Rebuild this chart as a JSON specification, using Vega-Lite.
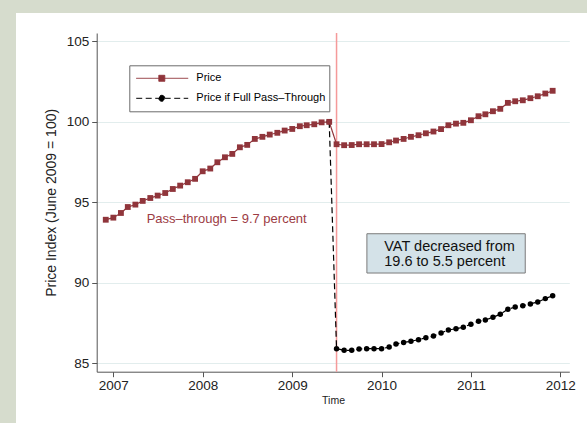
{
  "$schema": "https://vega.github.io/schema/vega-lite/v6.json",
  "width": 571,
  "height": 410,
  "autosize": "none",
  "padding": {"left": 16, "top": 13, "right": 0, "bottom": 0},
  "background": "#d6dccd",
  "config": {
    "view": {"fill": "white", "stroke": null},
    "font": "Liberation Sans"
  },
  "datasets": {
    "prices": [
      {"date": "2006-12-01", "series": "Price", "value": 93.92},
      {"date": "2007-01-01", "series": "Price", "value": 94.05},
      {"date": "2007-02-01", "series": "Price", "value": 94.34},
      {"date": "2007-03-01", "series": "Price", "value": 94.71},
      {"date": "2007-04-01", "series": "Price", "value": 94.86},
      {"date": "2007-05-01", "series": "Price", "value": 95.09},
      {"date": "2007-06-01", "series": "Price", "value": 95.27},
      {"date": "2007-07-01", "series": "Price", "value": 95.42},
      {"date": "2007-08-01", "series": "Price", "value": 95.58},
      {"date": "2007-09-01", "series": "Price", "value": 95.83},
      {"date": "2007-10-01", "series": "Price", "value": 96.04},
      {"date": "2007-11-01", "series": "Price", "value": 96.25},
      {"date": "2007-12-01", "series": "Price", "value": 96.46},
      {"date": "2008-01-01", "series": "Price", "value": 96.93},
      {"date": "2008-02-01", "series": "Price", "value": 97.10},
      {"date": "2008-03-01", "series": "Price", "value": 97.49},
      {"date": "2008-04-01", "series": "Price", "value": 97.80},
      {"date": "2008-05-01", "series": "Price", "value": 98.01},
      {"date": "2008-06-01", "series": "Price", "value": 98.42},
      {"date": "2008-07-01", "series": "Price", "value": 98.57},
      {"date": "2008-08-01", "series": "Price", "value": 98.94},
      {"date": "2008-09-01", "series": "Price", "value": 99.07},
      {"date": "2008-10-01", "series": "Price", "value": 99.21},
      {"date": "2008-11-01", "series": "Price", "value": 99.32},
      {"date": "2008-12-01", "series": "Price", "value": 99.46},
      {"date": "2009-01-01", "series": "Price", "value": 99.56},
      {"date": "2009-02-01", "series": "Price", "value": 99.73},
      {"date": "2009-03-01", "series": "Price", "value": 99.79},
      {"date": "2009-04-01", "series": "Price", "value": 99.85},
      {"date": "2009-05-01", "series": "Price", "value": 99.97},
      {"date": "2009-06-01", "series": "Price", "value": 100.00},
      {"date": "2009-07-01", "series": "Price", "value": 98.61},
      {"date": "2009-08-01", "series": "Price", "value": 98.55},
      {"date": "2009-09-01", "series": "Price", "value": 98.56},
      {"date": "2009-10-01", "series": "Price", "value": 98.61},
      {"date": "2009-11-01", "series": "Price", "value": 98.61},
      {"date": "2009-12-01", "series": "Price", "value": 98.61},
      {"date": "2010-01-01", "series": "Price", "value": 98.62},
      {"date": "2010-02-01", "series": "Price", "value": 98.73},
      {"date": "2010-03-01", "series": "Price", "value": 98.84},
      {"date": "2010-04-01", "series": "Price", "value": 98.94},
      {"date": "2010-05-01", "series": "Price", "value": 99.07},
      {"date": "2010-06-01", "series": "Price", "value": 99.17},
      {"date": "2010-07-01", "series": "Price", "value": 99.29},
      {"date": "2010-08-01", "series": "Price", "value": 99.40},
      {"date": "2010-09-01", "series": "Price", "value": 99.55},
      {"date": "2010-10-01", "series": "Price", "value": 99.79},
      {"date": "2010-11-01", "series": "Price", "value": 99.89},
      {"date": "2010-12-01", "series": "Price", "value": 99.94},
      {"date": "2011-01-01", "series": "Price", "value": 100.10},
      {"date": "2011-02-01", "series": "Price", "value": 100.35},
      {"date": "2011-03-01", "series": "Price", "value": 100.47},
      {"date": "2011-04-01", "series": "Price", "value": 100.66},
      {"date": "2011-05-01", "series": "Price", "value": 100.81},
      {"date": "2011-06-01", "series": "Price", "value": 101.18},
      {"date": "2011-07-01", "series": "Price", "value": 101.28},
      {"date": "2011-08-01", "series": "Price", "value": 101.34},
      {"date": "2011-09-01", "series": "Price", "value": 101.47},
      {"date": "2011-10-01", "series": "Price", "value": 101.59},
      {"date": "2011-11-01", "series": "Price", "value": 101.76},
      {"date": "2011-12-01", "series": "Price", "value": 101.93},
      {"date": "2009-06-01", "series": "Price if Full Pass–Through", "value": 100.00},
      {"date": "2009-07-01", "series": "Price if Full Pass–Through", "value": 85.91},
      {"date": "2009-08-01", "series": "Price if Full Pass–Through", "value": 85.81},
      {"date": "2009-09-01", "series": "Price if Full Pass–Through", "value": 85.81},
      {"date": "2009-10-01", "series": "Price if Full Pass–Through", "value": 85.89},
      {"date": "2009-11-01", "series": "Price if Full Pass–Through", "value": 85.91},
      {"date": "2009-12-01", "series": "Price if Full Pass–Through", "value": 85.91},
      {"date": "2010-01-01", "series": "Price if Full Pass–Through", "value": 85.91},
      {"date": "2010-02-01", "series": "Price if Full Pass–Through", "value": 86.01},
      {"date": "2010-03-01", "series": "Price if Full Pass–Through", "value": 86.20},
      {"date": "2010-04-01", "series": "Price if Full Pass–Through", "value": 86.30},
      {"date": "2010-05-01", "series": "Price if Full Pass–Through", "value": 86.37},
      {"date": "2010-06-01", "series": "Price if Full Pass–Through", "value": 86.47},
      {"date": "2010-07-01", "series": "Price if Full Pass–Through", "value": 86.59},
      {"date": "2010-08-01", "series": "Price if Full Pass–Through", "value": 86.70},
      {"date": "2010-09-01", "series": "Price if Full Pass–Through", "value": 86.88},
      {"date": "2010-10-01", "series": "Price if Full Pass–Through", "value": 87.07},
      {"date": "2010-11-01", "series": "Price if Full Pass–Through", "value": 87.15},
      {"date": "2010-12-01", "series": "Price if Full Pass–Through", "value": 87.24},
      {"date": "2011-01-01", "series": "Price if Full Pass–Through", "value": 87.43},
      {"date": "2011-02-01", "series": "Price if Full Pass–Through", "value": 87.61},
      {"date": "2011-03-01", "series": "Price if Full Pass–Through", "value": 87.69},
      {"date": "2011-04-01", "series": "Price if Full Pass–Through", "value": 87.86},
      {"date": "2011-05-01", "series": "Price if Full Pass–Through", "value": 88.05},
      {"date": "2011-06-01", "series": "Price if Full Pass–Through", "value": 88.36},
      {"date": "2011-07-01", "series": "Price if Full Pass–Through", "value": 88.50},
      {"date": "2011-08-01", "series": "Price if Full Pass–Through", "value": 88.58},
      {"date": "2011-09-01", "series": "Price if Full Pass–Through", "value": 88.69},
      {"date": "2011-10-01", "series": "Price if Full Pass–Through", "value": 88.81},
      {"date": "2011-11-01", "series": "Price if Full Pass–Through", "value": 89.02},
      {"date": "2011-12-01", "series": "Price if Full Pass–Through", "value": 89.20}
    ]
  },
  "layer": [
    {
      "data": {"values": [{}]},
      "mark": {"type": "rule", "color": "#f59a9a", "strokeWidth": 1.5},
      "encoding": {
        "x": {
          "datum": {"year": 2009, "month": 7, "date": 1, "utc": true},
          "type": "temporal",
          "title": "Time",
          "scale": {
            "type": "utc",
            "domain": [
              {"year": 2006, "month": 10, "date": 25, "utc": true},
              {"year": 2012, "month": 2, "date": 7, "utc": true}
            ],
            "range": [80.7, 553.3],
            "nice": false
          },
          "axis": {
            "values": [
              {"year": 2007, "month": 1, "date": 1, "utc": true},
              {"year": 2008, "month": 1, "date": 1, "utc": true},
              {"year": 2009, "month": 1, "date": 1, "utc": true},
              {"year": 2010, "month": 1, "date": 1, "utc": true},
              {"year": 2011, "month": 1, "date": 1, "utc": true},
              {"year": 2012, "month": 1, "date": 1, "utc": true}
            ],
            "format": "%Y",
            "offset": -51.3,
            "grid": false,
            "tickSize": 5,
            "labelPadding": 2,
            "labelFontSize": 13.5,
            "labelFont": "Liberation Sans",
            "labelColor": "#222222",
            "labelFlush": false,
            "labelOverlap": false,
            "titleFont": "Liberation Sans",
            "titleFontSize": 10.5,
            "titleFontWeight": "normal",
            "titleColor": "#222222",
            "titlePadding": 3,
            "domainColor": "#555555",
            "tickColor": "#555555"
          }
        },
        "y": {
          "datum": 105.52,
          "type": "quantitative",
          "title": "Price Index (June 2009 = 100)",
          "scale": {"domain": [84.48, 105.52], "range": [358.7, 20], "nice": false, "zero": false},
          "axis": {
            "values": [85, 90, 95, 100, 105],
            "offset": -80.7,
            "grid": true,
            "gridColor": "#e2eded",
            "gridWidth": 1,
            "tickSize": 5,
            "labelPadding": 3,
            "labelFontSize": 13.5,
            "labelFont": "Liberation Sans",
            "labelColor": "#222222",
            "titleFont": "Liberation Sans",
            "titleFontSize": 14,
            "titleFontWeight": "normal",
            "titleColor": "#222222",
            "titlePadding": 8,
            "domainColor": "#555555",
            "tickColor": "#555555"
          }
        },
        "y2": {"datum": 84.48}
      }
    },
    {
      "data": {"name": "prices"},
      "encoding": {
        "x": {"field": "date", "type": "temporal", "title": "Time"},
        "y": {"field": "value", "type": "quantitative", "title": "Price Index (June 2009 = 100)"}
      },
      "layer": [
        {
          "mark": {"type": "line", "strokeWidth": 1.2},
          "encoding": {
            "color": {
              "field": "series",
              "type": "nominal",
              "scale": {"domain": ["Price", "Price if Full Pass–Through"], "range": ["#90353b", "#000000"]},
              "legend": {
                "title": null,
                "orient": "none",
                "legendX": 113.3,
                "legendY": 52.3,
                "direction": "vertical",
                "fillColor": "white",
                "strokeColor": "#6b6b6b",
                "padding": 4,
                "clipHeight": 18,
                "rowPadding": 2,
                "symbolSize": 3136,
                "symbolStrokeWidth": 1,
                "symbolType": "M-0.914,0H0.943M-0.107,-0.107H0.107V0.107H-0.107Z",
                "labelFont": "Liberation Sans",
                "labelFontSize": 11,
                "labelColor": "#000000",
                "labelOffset": 6,
                "encode": {
                  "symbols": {
                    "update": {
                      "shape": {"signal": "datum.value === 'Price' ? 'M-0.914,0H0.943M-0.107,-0.107H0.107V0.107H-0.107Z' : 'M-0.914,0H0.943M-0.107,0A0.107,0.107,0,1,0,0.107,0A0.107,0.107,0,1,0,-0.107,0Z'"},
                      "fill": {"scale": "color", "field": "value"},
                      "fillOpacity": {"value": 1}
                    }
                  }
                }
              }
            },
            "strokeDash": {
              "field": "series",
              "type": "nominal",
              "scale": {"domain": ["Price", "Price if Full Pass–Through"], "range": [[1, 0], [6, 3.5]]},
              "legend": {
                "title": null,
                "orient": "none",
                "legendX": 113.3,
                "legendY": 52.3,
                "direction": "vertical",
                "fillColor": "white",
                "strokeColor": "#6b6b6b",
                "padding": 4,
                "clipHeight": 18,
                "rowPadding": 2,
                "symbolSize": 3136,
                "symbolStrokeWidth": 1,
                "symbolType": "M-0.914,0H0.943M-0.107,-0.107H0.107V0.107H-0.107Z",
                "labelFont": "Liberation Sans",
                "labelFontSize": 11,
                "labelColor": "#000000",
                "labelOffset": 6
              }
            }
          }
        },
        {
          "transform": [{"filter": "datum.series !== 'Price'"}],
          "mark": {"type": "point", "shape": "circle", "filled": true, "size": 30, "color": "#000000", "opacity": 1}
        },
        {
          "transform": [{"filter": "datum.series === 'Price'"}],
          "mark": {"type": "point", "shape": "square", "filled": true, "size": 34, "color": "#90353b", "opacity": 1}
        }
      ]
    },
    {
      "data": {"values": [{}]},
      "mark": {"type": "rect", "fill": "#d4e2e8", "stroke": "#7a7a7a", "strokeWidth": 1},
      "encoding": {
        "x": {"datum": {"year": 2009, "month": 11, "date": 2, "utc": true}, "type": "temporal"},
        "x2": {"datum": {"year": 2011, "month": 8, "date": 11, "utc": true}},
        "y": {"datum": 93.05, "type": "quantitative"},
        "y2": {"datum": 90.61}
      }
    },
    {
      "data": {"values": [{}]},
      "mark": {"type": "text", "align": "left", "baseline": "middle", "fontSize": 14.5, "lineHeight": 14.6, "font": "Liberation Sans", "color": "#111111"},
      "encoding": {
        "x": {"datum": {"year": 2010, "month": 1, "date": 12, "utc": true}, "type": "temporal"},
        "y": {"datum": 92.23, "type": "quantitative"},
        "text": {"value": ["VAT decreased from", "19.6 to 5.5 percent"]}
      }
    },
    {
      "data": {"values": [{}]},
      "mark": {"type": "text", "align": "left", "baseline": "middle", "fontSize": 13, "font": "Liberation Sans", "color": "#9c3c44"},
      "encoding": {
        "x": {"datum": {"year": 2007, "month": 5, "date": 17, "utc": true}, "type": "temporal"},
        "y": {"datum": 93.99, "type": "quantitative"},
        "text": {"value": "Pass–through = 9.7 percent"}
      }
    }
  ]
}
